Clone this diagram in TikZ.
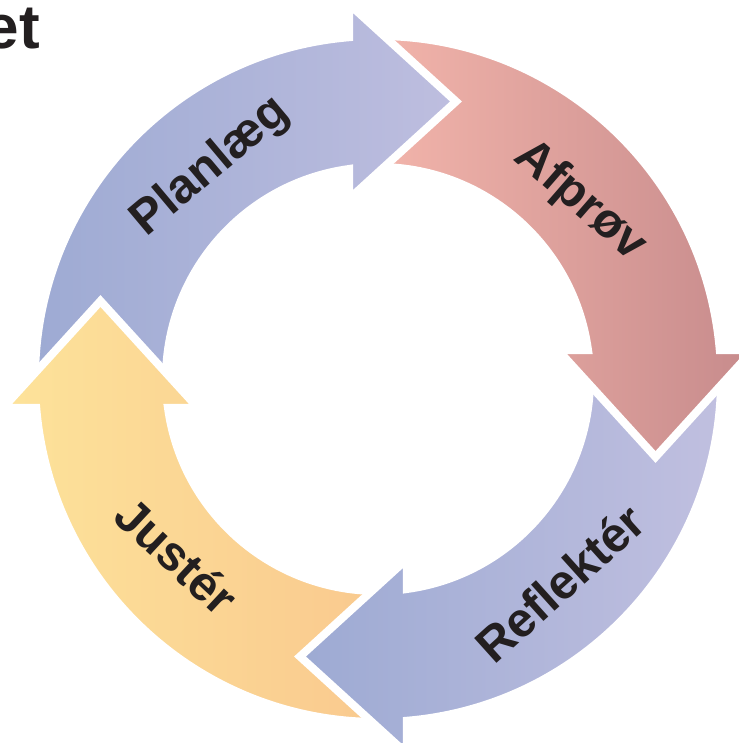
\documentclass[tikz,border=0pt]{standalone}
\usepackage{fontspec}
\setmainfont{Liberation Sans}
\definecolor{plA}{HTML}{9DAAD3}
\definecolor{plB}{HTML}{BEBEDF}
\definecolor{afA}{HTML}{F4B6AC}
\definecolor{afB}{HTML}{C78B8C}
\definecolor{reA}{HTML}{9DAAD3}
\definecolor{reB}{HTML}{C1C0E0}
\definecolor{juA}{HTML}{FDE39A}
\definecolor{juB}{HTML}{F9C88E}
\definecolor{labelcol}{HTML}{231F20}
\begin{document}
\begin{tikzpicture}[x=1pt,y=1pt]
\useasboundingbox (-378,-364) rectangle (360,379);
\tikzset{
  arrowshape/.style={draw=white, line width=8pt, line join=miter},
  arrowpath/.style={insert path={
    (182.51-#1:343pt) arc[start angle=182.51-#1, end angle=94.85-#1, radius=343pt]
    -- (94.42-#1:376.1pt) -- (74.30-#1:288.3pt) -- (99.15-#1:182.3pt)
    -- (97.86-#1:212pt) arc[start angle=97.86-#1, end angle=184.06-#1, radius=212pt]
    -- cycle}},
  lbl/.style={font=\fontsize{48.5}{50}\selectfont\bfseries, text=labelcol, inner sep=0pt}
}
% bodies, each head drawn over the next arrow's tail
\path[arrowshape, left color=juA, right color=juB, arrowpath=270];
\path[arrowshape, left color=reA, right color=reB, arrowpath=180];
\path[arrowshape, left color=afA, right color=afB, arrowpath=90];
\path[arrowshape, left color=plA, right color=plB, arrowpath=0];
% Justér head again, over the tail of Planlæg
\begin{scope}
  \clip (-400,-29) rectangle (-150,420);
  \path[arrowshape, left color=juA, right color=juB, arrowpath=270];
\end{scope}
% labels
\node[lbl, rotate=40] (planlaeg) at (-167,212) {Planlæg};
\node[lbl, rotate=-41] (afproev) at (202,178) {Afprøv};
\node[lbl, rotate=42] (reflekter) at (182,-204) {Reflektér};
\node[lbl, rotate=-43] (juster) at (-201,-177) {Justér};
\node[anchor=base east, inner sep=0pt, text=labelcol,
  font=\fontsize{62}{64}\selectfont\bfseries] (title) at (-338,330) {et};
\end{tikzpicture}
\end{document}
